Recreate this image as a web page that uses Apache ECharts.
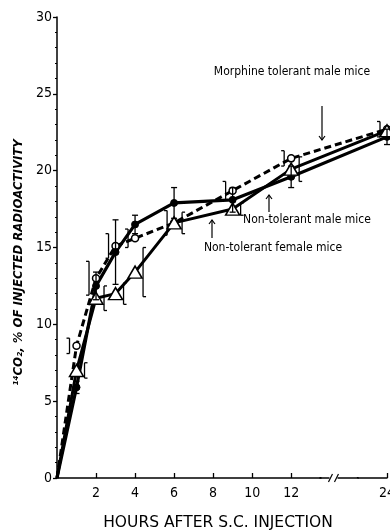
<!DOCTYPE html>
<html>
<head>
<meta charset="utf-8">
<script src="https://cdn.jsdelivr.net/npm/echarts@6/dist/echarts.min.js"></script>
<style>
html,body{margin:0;padding:0;background:#fff;}
#chart{width:390px;height:531px;}
</style>
</head>
<body>
<div id="chart"></div>
<script>
// ---- data ----
const hours = [0, 1, 2, 3, 4, 6, 9, 12, 24];
const morphineTolerantMale = [0, 8.6, 13.0, 15.1, 15.6, 16.6, 18.7, 20.8, 22.7];
const morphineTolerantMaleErr = [0, 0.5, 1.1, 0.8, 0.6, 0.8, 0.6, 0.5, 0.5];
const nonTolerantMale = [0, 5.9, 12.5, 14.7, 16.5, 17.9, 18.1, 19.6, 22.2];
const nonTolerantMaleErr = [0, 0.4, 0.9, 2.1, 0.6, 1.0, 0.8, 0.7, 0.5];
const nonTolerantFemale = [0, 7.0, 11.7, 12.0, 13.4, 16.6, 17.5, 20.1, 22.6];
const nonTolerantFemaleErr = [0, 0.5, 0.8, 0.7, 1.6, 0.7, 0.4, 0.8, 0.5];
const xTickLabels = ['2', '4', '6', '8', '10', '12', '24'];
const yTickLabels = ['0', '5', '10', '15', '20', '25', '30'];
const xBreak = [13.5, 22.5];

const FONT = "'DejaVu Sans Condensed', 'Liberation Sans Narrow', 'DejaVu Sans', sans-serif";
const chart = echarts.init(document.getElementById('chart'), null, {renderer: 'canvas'});

function lineData(vals) {
  return hours.map((h, i) => ({value: [h, vals[i]], symbol: h === 0 ? 'none' : undefined}));
}

function errSeries(name, vals, errs, dx) {
  return {
    type: 'custom', name: name + ' err', silent: true, z: 4,
    encode: {x: 0, y: [1, 2]},
    data: hours.map((h, i) => [h, vals[i] - errs[i], vals[i] + errs[i]]).filter(d => d[0] > 0),
    renderItem(params, api) {
      const lo = api.coord([api.value(0), api.value(1)]);
      const hi = api.coord([api.value(0), api.value(2)]);
      const x = lo[0] + dx;
      const st = {stroke: '#000', lineWidth: 1.3};
      const children = [{type: 'line', shape: {x1: x, y1: lo[1], x2: x, y2: hi[1]}, style: st}];
      if (dx === 0) {
        children.push({type: 'line', shape: {x1: x - 3, y1: lo[1], x2: x + 3, y2: lo[1]}, style: st});
        children.push({type: 'line', shape: {x1: x - 3, y1: hi[1], x2: x + 3, y2: hi[1]}, style: st});
      } else {
        const c = dx > 0 ? 3 : -3;
        children.push({type: 'line', shape: {x1: x, y1: lo[1], x2: x + c, y2: lo[1]}, style: st});
        children.push({type: 'line', shape: {x1: x, y1: hi[1], x2: x + c, y2: hi[1]}, style: st});
      }
      return {type: 'group', children};
    }
  };
}

const option = {
  backgroundColor: '#fff',
  animation: false,
  grid: {left: 57, right: 3, top: 17, bottom: 53, containLabel: false, outerBoundsMode: 'none'},
  xAxis: {
    type: 'value', min: 0, max: 24, interval: 2,
    breaks: [{start: xBreak[0], end: xBreak[1], gap: '11.3%'}],
    breakArea: {show: false},
    axisLine: {lineStyle: {color: '#000', width: 1.5}},
    axisTick: {inside: true, length: 5, lineStyle: {color: '#000', width: 1.3}},
    splitLine: {show: false},
    axisLabel: {
      color: '#000', fontSize: 14, fontFamily: FONT, margin: 8,
      formatter: v => xTickLabels.indexOf(String(v)) >= 0 ? String(v) : ''
    },
    name: 'HOURS AFTER S.C. INJECTION',
    nameLocation: 'middle', nameGap: 37,
    nameTextStyle: {color: '#000', fontSize: 15.5, fontFamily: "'DejaVu Sans', sans-serif", padding: [0, 0, 0, -8]}
  },
  yAxis: {
    type: 'value', min: 0, max: 30, interval: 5,
    axisLine: {show: true, lineStyle: {color: '#000', width: 1.5}},
    axisTick: {show: true, inside: false, length: 4, lineStyle: {color: '#000', width: 1.3}},
    minorTick: {show: true, splitNumber: 5, length: 2, lineStyle: {color: '#000'}},
    splitLine: {show: false},
    axisLabel: {
      color: '#000', fontSize: 14, fontFamily: FONT, margin: 5,
      formatter: v => yTickLabels.indexOf(String(v)) >= 0 ? String(v) : ''
    },
    name: '¹⁴CO₂, % OF INJECTED RADIOACTIVITY',
    nameLocation: 'middle', nameRotate: 90, nameGap: 29,
    nameTextStyle: {color: '#000', fontSize: 13, fontStyle: 'italic', fontWeight: 'bold', fontFamily: FONT, padding: [0, 0, 0, -30]}
  },
  series: [
    {
      name: 'Morphine tolerant male mice', type: 'line', data: lineData(morphineTolerantMale),
      symbol: 'circle', symbolSize: 7, z: 3,
      lineStyle: {color: '#000', width: 3, type: [7, 4]},
      itemStyle: {color: '#fff', borderColor: '#000', borderWidth: 1.5}
    },
    {
      name: 'Non-tolerant male mice', type: 'line', data: lineData(nonTolerantMale),
      symbol: 'circle', symbolSize: 7, z: 3,
      lineStyle: {color: '#000', width: 3.2},
      itemStyle: {color: '#000', borderColor: '#000', borderWidth: 1}
    },
    {
      name: 'Non-tolerant female mice', type: 'line', data: lineData(nonTolerantFemale),
      symbol: 'triangle', symbolSize: [14, 12], z: 3,
      lineStyle: {color: '#000', width: 3},
      itemStyle: {color: '#fff', borderColor: '#000', borderWidth: 1.5}
    },
    errSeries('Morphine tolerant male mice', morphineTolerantMale, morphineTolerantMaleErr, -7),
    errSeries('Non-tolerant male mice', nonTolerantMale, nonTolerantMaleErr, 0),
    errSeries('Non-tolerant female mice', nonTolerantFemale, nonTolerantFemaleErr, 8)
  ]
};
chart.setOption(option);

// annotations and axis-break mark
const pA = chart.convertToPixel({xAxisIndex: 0}, xBreak[0]);
const pB = chart.convertToPixel({xAxisIndex: 0}, xBreak[1]);
const bx = pA + (pB - pA) * 0.35;
const by = chart.convertToPixel({yAxisIndex: 0}, 0);
const annFont = "12px 'DejaVu Sans Condensed', 'Liberation Sans Narrow', sans-serif";
function arrow(x, y1, y2) { // arrow head at y2
  const d = y2 > y1 ? -4 : 4;
  return [
    {type: 'line', shape: {x1: x, y1: y1, x2: x, y2: y2}, style: {stroke: '#000', lineWidth: 1.2}},
    {type: 'polyline', shape: {points: [[x - 3, y2 + d], [x, y2], [x + 3, y2 + d]]}, style: {stroke: '#000', lineWidth: 1.2, fill: null}}
  ];
}
chart.setOption({
  graphic: [
    {type: 'rect', shape: {x: pA - 2, y: by - 8, width: pB - pA + 4, height: 7}, style: {fill: '#fff'}, z: 49},
    {type: 'line', shape: {x1: pA - 1, y1: by, x2: pB + 1, y2: by}, style: {stroke: '#000', lineWidth: 1.5}, z: 50},
    {type: 'rect', shape: {x: bx - 4, y: by - 3, width: 8, height: 6}, style: {fill: '#fff'}, z: 50},
    {type: 'line', shape: {x1: bx - 5, y1: by + 4, x2: bx - 1, y2: by - 4}, style: {stroke: '#000', lineWidth: 1.2}, z: 51},
    {type: 'line', shape: {x1: bx + 1, y1: by + 4, x2: bx + 5, y2: by - 4}, style: {stroke: '#000', lineWidth: 1.2}, z: 51},
    {type: 'text', x: 292, y: 72, style: {text: 'Morphine tolerant male mice', font: annFont, fill: '#000', align: 'center', verticalAlign: 'middle'}},
    ...arrow(322, 106, 140),
    {type: 'text', x: 307, y: 220, style: {text: 'Non-tolerant male mice', font: annFont, fill: '#000', align: 'center', verticalAlign: 'middle'}},
    ...arrow(269, 212, 195),
    {type: 'text', x: 273, y: 248, style: {text: 'Non-tolerant female mice', font: annFont, fill: '#000', align: 'center', verticalAlign: 'middle'}},
    ...arrow(212, 238, 220)
  ]
});
</script>
</body>
</html>
